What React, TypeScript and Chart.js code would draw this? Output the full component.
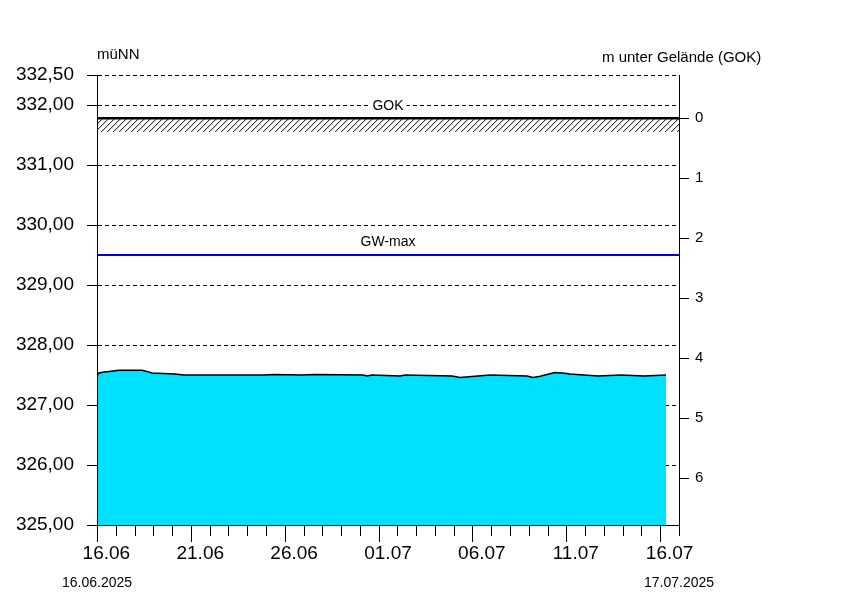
import React, { useEffect, useRef } from "react";
import { Chart, registerables } from "chart.js";

Chart.register(...registerables);

// ---- data ----
const startDateLabel = "16.06.2025";
const endDateLabel = "17.07.2025";
const totalDays = 31; // 16.06 .. 17.07
const xTickDays = [0, 5, 10, 15, 20, 25, 30];
const xTickLabels = ["16.06", "21.06", "26.06", "01.07", "06.07", "11.07", "16.07"];
const yTickValues = [325, 326, 327, 328, 329, 330, 331, 332, 332.5];
const depthTicks = [0, 1, 2, 3, 4, 5, 6];
const gokLevel = 331.78;
const gwMaxLevel = 329.5;
const hatchDepth = 0.23;

const dayOffsets = [
  0, 0.05, 0.37, 0.64, 1.17, 2.4, 2.66, 2.93, 4.15, 4.63, 8.9, 9.43, 10.92,
  11.66, 14.17, 14.38, 14.65, 16.14, 16.41, 18.91, 19.34, 20.93, 22.9, 23.22,
  23.6, 23.97, 24.4, 24.93, 25.19, 25.94, 26.69, 27.91, 29.14, 30.31,
];
const levels = [
  327.51, 327.53, 327.55, 327.56, 327.58, 327.58, 327.56, 327.535, 327.515,
  327.5, 327.5, 327.51, 327.5, 327.51, 327.5, 327.485, 327.5, 327.485, 327.5,
  327.485, 327.46, 327.5, 327.485, 327.46, 327.48, 327.51, 327.54, 327.53,
  327.515, 327.5, 327.485, 327.5, 327.485, 327.5,
];

const FONT = "'Liberation Sans', Arial, sans-serif";

const decorPlugin = {
  id: "decor",
  afterDatasetsDraw(chart: any) {
    const { ctx, chartArea, scales } = chart;
    const y = scales.y;
    const yTop = y.getPixelForValue(gokLevel);
    const yBot = y.getPixelForValue(gokLevel - hatchDepth);
    // hatch
    ctx.save();
    ctx.beginPath();
    ctx.rect(chartArea.left, yTop, chartArea.right - chartArea.left, yBot - yTop);
    ctx.clip();
    ctx.strokeStyle = "#000";
    ctx.lineWidth = 1;
    ctx.beginPath();
    const h = yBot - yTop;
    for (let px = chartArea.left - h; px < chartArea.right + h; px += 6) {
      ctx.moveTo(px, yBot);
      ctx.lineTo(px + h, yTop);
    }
    ctx.stroke();
    ctx.restore();

    // labels on the lines
    const cx = (chartArea.left + chartArea.right) / 2;
    ctx.save();
    ctx.font = "14px " + FONT;
    ctx.textAlign = "center";
    ctx.textBaseline = "middle";
    const gy = yTop - 12;
    const w = ctx.measureText("GOK").width;
    ctx.fillStyle = "#fff";
    ctx.fillRect(cx - w / 2 - 3, gy - 7, w + 6, 14);
    ctx.fillStyle = "#000";
    ctx.fillText("GOK", cx, gy);
    const wy = y.getPixelForValue(gwMaxLevel) - 13;
    ctx.fillText("GW-max", cx, wy);
    ctx.restore();
  },
  afterDraw(chart: any) {
    const { ctx, chartArea, scales } = chart;
    const x = scales.x;
    ctx.save();
    ctx.strokeStyle = "#000";
    ctx.lineWidth = 1;
    ctx.beginPath();
    for (let d = 0; d <= totalDays; d++) {
      const px = Math.round(x.getPixelForValue(d)) + 0.5;
      const major = d % 5 === 0 && d < totalDays;
      ctx.moveTo(px, chartArea.bottom);
      ctx.lineTo(px, chartArea.bottom + (major ? 17 : 11));
    }
    ctx.stroke();
    ctx.fillStyle = "#000";
    ctx.font = "15px " + FONT;
    ctx.textBaseline = "middle";
    ctx.textAlign = "left";
    ctx.fillText("müNN", chartArea.left, 55);
    ctx.fillText("m unter Gelände (GOK)", 602, 58);
    ctx.font = "14px " + FONT;
    ctx.textAlign = "center";
    ctx.fillText(startDateLabel, x.getPixelForValue(0), 583);
    ctx.fillText(endDateLabel, x.getPixelForValue(totalDays), 583);
    ctx.restore();
  },
};

export default function App() {
  const ref = useRef<HTMLCanvasElement | null>(null);
  useEffect(() => {
    document.body.style.margin = "0";
    Chart.defaults.font.family = FONT;
    Chart.defaults.color = "#000";
    const series = dayOffsets.map((d, i) => ({ x: d, y: levels[i] }));
    const chart = new Chart(ref.current as HTMLCanvasElement, {
      type: "line",
      data: {
        datasets: [
          {
            label: "GW",
            data: series,
            borderColor: "#000",
            borderWidth: 1.5,
            backgroundColor: "#00E1FF",
            fill: "start",
            pointRadius: 0,
            tension: 0,
          },
          {
            label: "GOK",
            data: [
              { x: 0, y: gokLevel },
              { x: totalDays, y: gokLevel },
            ],
            borderColor: "#000",
            borderWidth: 2.5,
            pointRadius: 0,
            fill: false,
          },
          {
            label: "GW-max",
            data: [
              { x: 0, y: gwMaxLevel },
              { x: totalDays, y: gwMaxLevel },
            ],
            borderColor: "#0000E6",
            borderWidth: 2,
            pointRadius: 0,
            fill: false,
          },
        ],
      },
      options: {
        responsive: false,
        animation: false,
        devicePixelRatio: 1,
        layout: { padding: { top: 75, left: 0, right: 0, bottom: 0 } },
        plugins: { legend: { display: false }, tooltip: { enabled: false } },
        scales: {
          x: {
            type: "linear",
            min: 0,
            max: totalDays,
            afterBuildTicks: (s: any) => {
              s.ticks = xTickDays.map((d) => ({ value: d + 0.5 }));
            },
            afterFit: (s: any) => {
              s.height = 75;
            },
            ticks: {
              autoSkip: false,
              maxRotation: 0,
              padding: 17,
              font: { size: 19 },
              color: "#000",
              callback: (_v: any, i: number) => xTickLabels[i],
            },
            grid: { display: true, drawOnChartArea: false, drawTicks: false },
            border: { display: true, color: "#000", width: 1, z: 1 },
          },
          y: {
            type: "linear",
            position: "left",
            min: 325,
            max: 332.5,
            afterBuildTicks: (s: any) => {
              s.ticks = yTickValues.map((v) => ({ value: v }));
            },
            afterFit: (s: any) => {
              s.width = 97;
            },
            ticks: {
              padding: 13,
              font: { size: 19 },
              color: "#000",
              callback: (v: any) => Number(v).toFixed(2).replace(".", ","),
            },
            grid: {
              display: true,
              drawOnChartArea: true,
              drawTicks: true,
              tickLength: 10,
              color: "#000",
              lineWidth: 1,
              tickColor: "#000",
              tickBorderDash: [],
            },
            border: { display: true, color: "#000", width: 1, dash: [4, 3], z: 1 },
          },
          y2: {
            type: "linear",
            position: "right",
            display: true,
            reverse: true,
            min: gokLevel - 332.5,
            max: gokLevel - 325,
            afterBuildTicks: (s: any) => {
              s.ticks = depthTicks.map((v) => ({ value: v }));
            },
            afterFit: (s: any) => {
              s.width = 175;
            },
            ticks: {
              padding: 6,
              font: { size: 15 },
              color: "#000",
              callback: (v: any) => String(v),
            },
            grid: {
              display: true,
              drawOnChartArea: false,
              drawTicks: true,
              tickLength: 10,
              tickColor: "#000",
            },
            border: { display: true, color: "#000", width: 1, z: 1 },
          },
        },
      },
      plugins: [decorPlugin],
    } as any);
    return () => chart.destroy();
  }, []);
  return (
    <div style={{ width: 854, height: 600, background: "#fff" }}>
      <canvas ref={ref} width={854} height={600} style={{ display: "block" }} />
    </div>
  );
}
